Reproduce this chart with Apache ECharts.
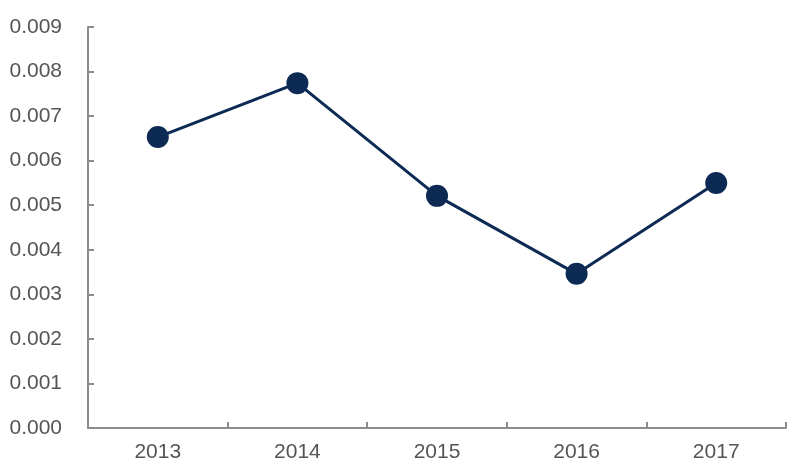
<!DOCTYPE html>
<html><head><meta charset="utf-8">
<script src="https://cdn.jsdelivr.net/npm/echarts@6/dist/echarts.min.js"></script>
<style>html,body{margin:0;padding:0;background:#fff}#c{width:800px;height:473px}</style>
</head><body><div id="c"></div>
<script>
const categories = ['2013', '2014', '2015', '2016', '2017'];
const values = [0.00653, 0.00774, 0.00521, 0.00346, 0.0055];
const yTicks = ['0.000','0.001','0.002','0.003','0.004','0.005','0.006','0.007','0.008','0.009'];

const chart = echarts.init(document.getElementById('c'), null, {renderer: 'canvas'});
const axisColor = '#8c8c8c';
const labelStyle = {color: '#555555', fontSize: 21, fontFamily: '"Liberation Sans", Arial, sans-serif'};
chart.setOption({
  animation: false,
  grid: {left: 88, right: 14, top: 27, bottom: 45, containLabel: false},
  xAxis: {
    type: 'category', data: categories, boundaryGap: true,
    axisLine: {lineStyle: {color: axisColor, width: 2}},
    axisTick: {show: true, inside: true, length: 6, alignWithLabel: false, lineStyle: {color: axisColor, width: 2}},
    axisLabel: Object.assign({margin: 14}, labelStyle),
    splitLine: {show: false}
  },
  yAxis: {
    type: 'value', min: 0, max: 0.009, interval: 0.001,
    axisLine: {show: true, lineStyle: {color: axisColor, width: 2}},
    axisTick: {show: true, inside: true, length: 6, lineStyle: {color: axisColor, width: 2}},
    axisLabel: Object.assign({margin: 26, formatter: (v) => yTicks[Math.round(v * 1000)]}, labelStyle),
    splitLine: {show: false}
  },
  series: [{
    type: 'line', data: values,
    symbol: 'circle', symbolSize: 22,
    lineStyle: {color: '#0c2a54', width: 3},
    itemStyle: {color: '#0c2a54'}
  }]
});
</script></body></html>
